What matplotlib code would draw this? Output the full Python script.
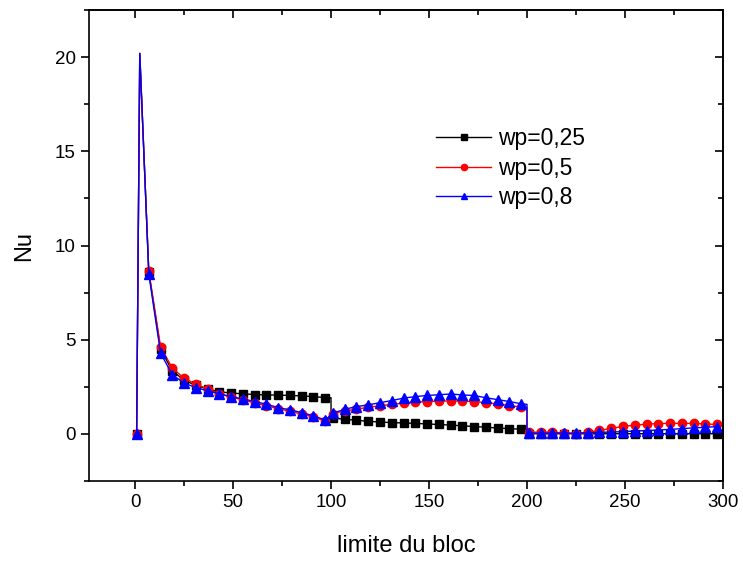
import matplotlib
matplotlib.use("Agg")
import matplotlib.pyplot as plt
from matplotlib.ticker import MultipleLocator
import numpy as np

plt.rcParams['font.family'] = ['Liberation Sans', 'DejaVu Sans']

# x positions of the data points (marker positions + peak + step points)
x_black = [0.8, 2.4, 7, 13, 19, 25, 31, 37, 43, 49, 55, 61, 67, 73, 79, 85, 91, 97, 100, 100,
           101, 107, 113, 119, 125, 131, 137, 143, 149, 155, 161, 167, 173, 179, 185, 191, 197, 200, 200,
           201, 207, 213, 219, 225, 231, 237, 243, 249, 255, 261, 267, 273, 279, 285, 291, 297]
y_black = [0, 20.2, 8.6, 4.5, 3.35, 2.85, 2.58, 2.38, 2.24, 2.17, 2.13, 2.09, 2.07, 2.06, 2.04, 2.02, 1.98, 1.93, 1.92, 0.86,
           0.84, 0.78, 0.72, 0.67, 0.63, 0.60, 0.58, 0.56, 0.53, 0.50, 0.47, 0.43, 0.39, 0.36, 0.31, 0.28, 0.25, 0.24, 0.01,
           0.01, 0.01, 0.01, 0.01, 0.01, 0.01, 0.01, 0.01, 0.01, 0.01, 0.01, 0.01, 0.01, 0.01, 0.01, 0.01, 0.01]

x_rb = [0.8, 2.4, 7, 13, 19, 25, 31, 37, 43, 49, 55, 61, 67, 73, 79, 85, 91, 97,
        101, 107, 113, 119, 125, 131, 137, 143, 149, 155, 161, 167, 173, 179, 185, 191, 197, 200, 200,
        201, 207, 213, 219, 225, 231, 237, 243, 249, 255, 261, 267, 273, 279, 285, 291, 297]
y_red = [0, 20.2, 8.65, 4.64, 3.49, 2.96, 2.64, 2.39, 2.12, 1.96, 1.80, 1.65, 1.50, 1.34, 1.20, 1.06, 0.90, 0.68,
         1.08, 1.22, 1.31, 1.42, 1.49, 1.57, 1.63, 1.68, 1.72, 1.74, 1.75, 1.74, 1.72, 1.66, 1.60, 1.50, 1.43, 1.40, 0.09,
         0.09, 0.09, 0.09, 0.05, 0.02, 0.08, 0.19, 0.29, 0.40, 0.46, 0.52, 0.55, 0.56, 0.56, 0.56, 0.53, 0.50]
y_blue = [0, 20.2, 8.5, 4.29, 3.14, 2.70, 2.46, 2.29, 2.13, 1.98, 1.86, 1.72, 1.58, 1.40, 1.28, 1.13, 0.96, 0.74,
          1.10, 1.31, 1.45, 1.54, 1.66, 1.77, 1.90, 1.98, 2.04, 2.08, 2.12, 2.07, 2.04, 1.92, 1.82, 1.72, 1.60, 1.57, 0.04,
          0.04, 0.04, 0.04, 0.04, 0.04, 0.06, 0.08, 0.10, 0.12, 0.15, 0.18, 0.21, 0.24, 0.28, 0.32, 0.35, 0.39]

labels = ['wp=0,25', 'wp=0,5', 'wp=0,8']
x_ticks = [0, 50, 100, 150, 200, 250, 300]
y_ticks = [0, 5, 10, 15, 20]


def mark_idx(xs):
    # markers on every point except the peak (index 1) and the step points (x == 100 or 200)
    return [i for i, v in enumerate(xs) if i != 1 and v not in (100, 200)]


fig = plt.figure(figsize=(7.43, 5.61), dpi=100)
ax = fig.add_axes([0.1198, 0.1426, 0.8532, 0.8394])

ax.plot(x_black, y_black, color='black', lw=1.0, marker='s', ms=5.5,
        markevery=mark_idx(x_black), label=labels[0])
ax.plot(x_rb, y_red, color='red', lw=1.0, marker='o', ms=6,
        markevery=mark_idx(x_rb), label=labels[1])
ax.plot(x_rb, y_blue, color='blue', lw=1.0, marker='^', ms=6.5,
        markevery=mark_idx(x_rb), label=labels[2])

ax.set_xlim(-23.5, 300)
ax.set_ylim(-2.5, 22.5)
ax.set_xticks(x_ticks)
ax.set_yticks(y_ticks)
ax.xaxis.set_minor_locator(MultipleLocator(25))
ax.yaxis.set_minor_locator(MultipleLocator(2.5))

ax.tick_params(axis='both', which='both', labelsize=13.5, width=1.2)
ax.tick_params(which='major', length=6)
ax.tick_params(which='minor', length=3.5)
# left/bottom outward, top/right inward
ax.tick_params(axis='x', which='both', direction='out', bottom=True, top=False)
ax.tick_params(axis='y', which='both', direction='out', left=True, right=False)
axt = ax.secondary_xaxis('top')
axt.set_xticks(x_ticks)
axt.xaxis.set_minor_locator(MultipleLocator(25))
axt.tick_params(which='both', direction='in', labeltop=False, width=1.2)
axt.tick_params(which='major', length=6)
axt.tick_params(which='minor', length=3.5)
axr = ax.secondary_yaxis('right')
axr.set_yticks(y_ticks)
axr.yaxis.set_minor_locator(MultipleLocator(2.5))
axr.tick_params(which='both', direction='in', labelright=False, width=1.2)
axr.tick_params(which='major', length=6)
axr.tick_params(which='minor', length=3.5)

for s in ax.spines.values():
    s.set_linewidth(1.2)
axt.spines['top'].set_linewidth(1.2)
axr.spines['right'].set_linewidth(1.2)

ax.set_xlabel('limite du bloc', fontsize=17, labelpad=17)
ax.set_ylabel('Nu', fontsize=17, labelpad=14)

leg = ax.legend(loc='upper left', bbox_to_anchor=(0.515, 0.795), frameon=False,
                fontsize=16.5, handlelength=2.4, handletextpad=0.3, labelspacing=0.28,
                markerscale=0.75)

fig.savefig('out.png', dpi=100)
